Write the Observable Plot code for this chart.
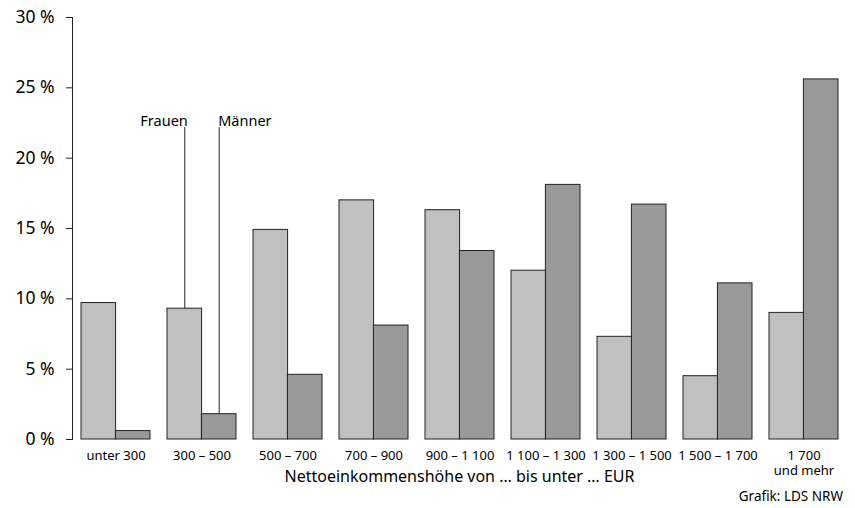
<!DOCTYPE html>
<html>
<head>
<meta charset="utf-8">
<script src="https://cdn.jsdelivr.net/npm/d3@7"></script>
<script src="https://cdn.jsdelivr.net/npm/@observablehq/plot@0.6"></script>
<style>
  html, body { margin: 0; padding: 0; background: #fff; }
  body { width: 855px; height: 508px; overflow: hidden; font-family: "Noto Sans", sans-serif; }
  #caption { width: 843px; text-align: right; font-size: 13.5px; color: #000; line-height: 18px; margin-top: -3px; }
</style>
</head>
<body>
<div id="chart"></div>
<div id="caption">Grafik: LDS NRW</div>
<script>
const categories = ["unter 300", "300 – 500", "500 – 700", "700 – 900", "900 – 1 100", "1 100 – 1 300", "1 300 – 1 500", "1 500 – 1 700", "1 700\nund mehr"];
const frauen = [9.7, 9.3, 14.9, 17.0, 16.3, 12.0, 7.3, 4.5, 9.0];
const maenner = [0.6, 1.8, 4.6, 8.1, 13.4, 18.1, 16.7, 11.1, 25.6];
const seriesNames = ["Frauen", "Männer"];
const yTicks = [0, 5, 10, 15, 20, 25, 30];
const xLabel = "Nettoeinkommenshöhe von … bis unter … EUR";
const annotatedCategory = "300 – 500";
const annotationLevel = 21.75;

const W = 855, H = 490, mL = 72, mR = 9, mT = 17, mB = 51;
const pInner = 0.2, pOuter = 0.1;
const step = (W - mL - mR) / (categories.length - pInner + 2 * pOuter);
const bw = step * (1 - pInner);
const half = bw / 2;

const rows = categories.flatMap((c, i) => [
  {cat: c, sex: seriesNames[0], v: frauen[i]},
  {cat: c, sex: seriesNames[1], v: maenner[i]}
]);
const ai = categories.indexOf(annotatedCategory);
const ann = [
  {cat: annotatedCategory, sex: seriesNames[0], v: frauen[ai], top: annotationLevel, dx: -half / 2, tdx: 3},
  {cat: annotatedCategory, sex: seriesNames[1], v: maenner[ai], top: annotationLevel, dx: half / 2, tdx: -1}
];

const chart = Plot.plot({
  width: W, height: H,
  marginLeft: mL, marginRight: mR, marginTop: mT, marginBottom: mB,
  style: {fontFamily: "Noto Sans, sans-serif", color: "#000", background: "#fff", overflow: "visible"},
  x: {domain: categories, type: "band", paddingInner: pInner, paddingOuter: pOuter, label: null},
  y: {domain: [0, 30], label: null},
  color: {domain: seriesNames, range: ["#c0c0c0", "#999999"]},
  marks: [
    Plot.frame({anchor: "left", stroke: "#222"}),
    Plot.axisY({ticks: yTicks, tickFormat: d => d + " %", tickSize: 6, tickPadding: 12, fontSize: 17.5, stroke: "#222", fill: "#000", label: null}),
    Plot.axisX({tickSize: 0, tickPadding: 9, fontSize: 13, lineHeight: 1.2, fill: "#000", label: null}),
    Plot.text([xLabel], {frameAnchor: "bottom", dy: 31, lineAnchor: "top", fontSize: 16, fill: "#000"}),
    Plot.barY(rows.filter(d => d.sex === seriesNames[0]), {x: "cat", y: "v", fill: d => d.sex, stroke: "#222", strokeWidth: 1, insetRight: half}),
    Plot.barY(rows.filter(d => d.sex === seriesNames[1]), {x: "cat", y: "v", fill: d => d.sex, stroke: "#222", strokeWidth: 1, insetLeft: half}),
    Plot.ruleX(ann.slice(0, 1), {x: "cat", y1: "v", y2: "top", dx: ann[0].dx, insetBottom: 6, stroke: "#222", strokeWidth: 1}),
    Plot.ruleX(ann.slice(1, 2), {x: "cat", y1: "v", y2: "top", dx: ann[1].dx, insetBottom: 6, stroke: "#222", strokeWidth: 1}),
    Plot.text(ann.slice(0, 1), {x: "cat", y: "top", text: "sex", dx: ann[0].dx + ann[0].tdx, dy: -18, lineAnchor: "top", textAnchor: "end", fontSize: 14.5, fill: "#000"}),
    Plot.text(ann.slice(1, 2), {x: "cat", y: "top", text: "sex", dx: ann[1].dx + ann[1].tdx, dy: -18, lineAnchor: "top", textAnchor: "start", fontSize: 14.5, fill: "#000"})
  ]
});
document.getElementById("chart").appendChild(chart);
</script>
</body>
</html>
